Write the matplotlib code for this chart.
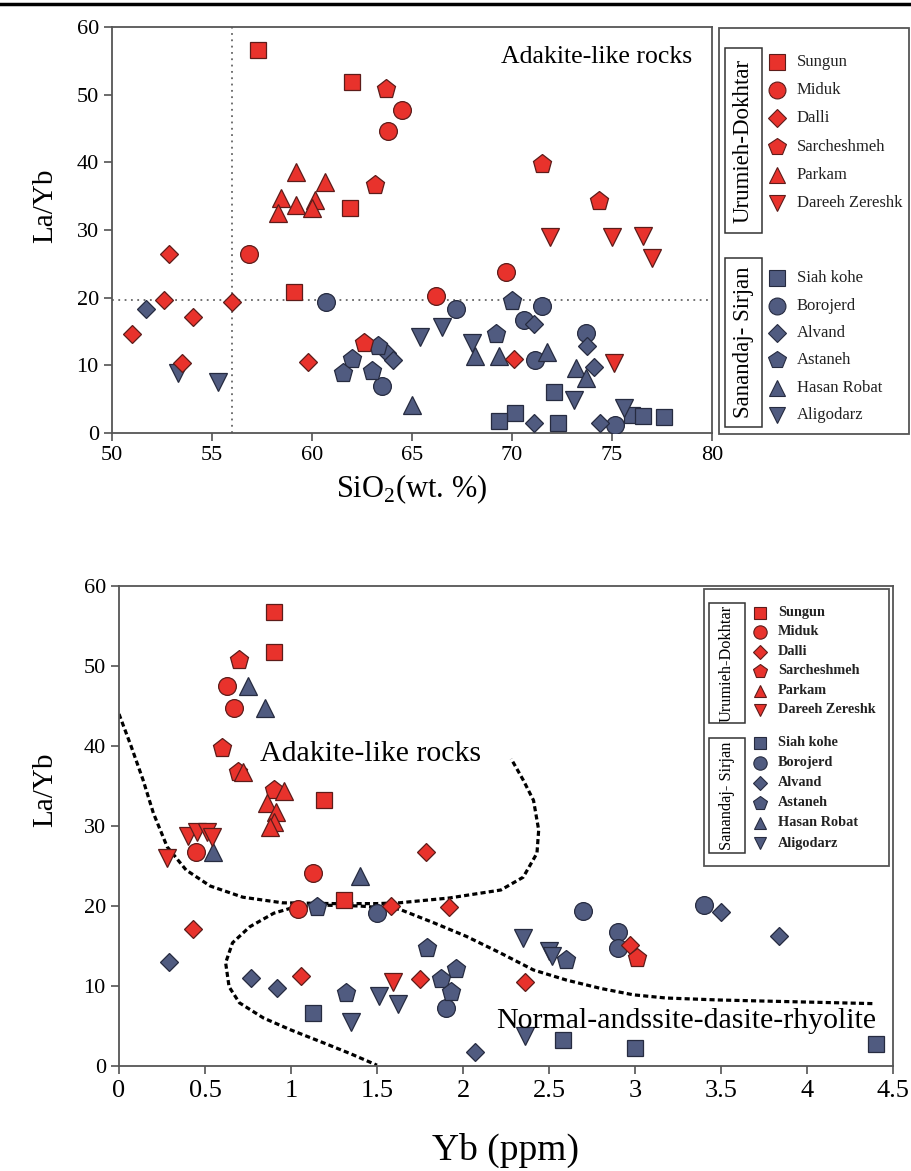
import matplotlib
matplotlib.use("Agg")
import matplotlib.pyplot as plt
from matplotlib.patches import Rectangle
from matplotlib.lines import Line2D

plt.rcParams['font.family'] = 'Liberation Serif'
plt.rcParams['mathtext.fontset'] = 'custom'
plt.rcParams['mathtext.rm'] = 'Liberation Serif'

# ---- data: group names and styles ----
ud_names = ['Sungun', 'Miduk', 'Dalli', 'Sarcheshmeh', 'Parkam', 'Dareeh Zereshk']
ss_names = ['Siah kohe', 'Borojerd', 'Alvand', 'Astaneh', 'Hasan Robat', 'Aligodarz']
shapes = ['s', 'o', 'D', 'p', '^', 'v']
red, red_edge = '#e8322c', '#5c1c1a'
blue, blue_edge = '#505b80', '#262b40'

# ---- top plot: SiO2 vs La/Yb ----
sio2_ud = [
    [57.3, 62.0, 61.9, 59.1],
    [64.5, 63.8, 56.85, 69.7, 66.2],
    [52.85, 52.6, 56.0, 54.05, 51.0, 53.5, 59.8, 70.1],
    [63.7, 63.15, 71.5, 74.35, 62.6],
    [59.2, 60.65, 58.45, 59.2, 60.15, 60.0, 58.3],
    [71.9, 75.0, 76.55, 77.0, 75.1],
]
layb_ud = [
    [56.6, 51.9, 33.2, 20.8],
    [47.8, 44.7, 26.4, 23.8, 20.2],
    [26.4, 19.6, 19.4, 17.1, 14.6, 10.3, 10.5, 10.9],
    [50.8, 36.7, 39.8, 34.3, 13.3],
    [38.6, 37.1, 34.7, 33.7, 34.4, 33.2, 32.5],
    [29.0, 29.0, 29.1, 25.8, 10.4],
]
sio2_ss = [
    [72.1, 70.15, 69.35, 72.3, 76.0, 76.55, 77.6],
    [60.7, 63.5, 67.2, 71.5, 70.6, 71.15, 73.7, 75.15],
    [51.7, 63.75, 64.05, 71.1, 73.75, 74.1, 71.1, 74.4],
    [62.0, 61.55, 63.0, 63.3, 70.0, 69.2],
    [65.0, 68.15, 69.35, 71.75, 73.2, 73.7],
    [53.3, 55.3, 65.4, 66.5, 68.0, 73.1, 75.6],
]
layb_ss = [
    [6.0, 3.0, 1.8, 1.5, 2.7, 2.5, 2.4],
    [19.4, 6.9, 18.3, 18.7, 16.7, 10.8, 14.8, 1.2],
    [18.3, 11.8, 10.8, 16.1, 12.9, 9.7, 1.5, 1.5],
    [10.9, 8.9, 9.1, 12.8, 19.5, 14.6],
    [4.1, 11.4, 11.4, 12.0, 9.6, 8.1],
    [8.9, 7.6, 14.2, 15.7, 13.3, 4.9, 3.7],
]
sio2_cut = 56.0
layb_cut = 19.6

# ---- bottom plot: Yb vs La/Yb ----
yb_ud = [
    [0.90, 0.90, 1.19, 1.31],
    [0.63, 0.67, 0.45, 1.13, 1.04],
    [1.785, 1.58, 1.92, 0.43, 1.06, 1.75, 2.36, 2.97],
    [0.70, 0.60, 0.69, 0.90, 3.01],
    [0.72, 0.96, 0.86, 0.91, 0.90, 0.88],
    [0.40, 0.455, 0.51, 0.54, 0.28, 1.595],
]
layb2_ud = [
    [56.7, 51.8, 33.3, 20.8],
    [47.5, 44.7, 26.7, 24.1, 19.6],
    [26.8, 20.0, 19.9, 17.1, 11.2, 10.9, 10.5, 15.1],
    [50.8, 39.8, 36.7, 34.5, 13.5],
    [36.8, 34.4, 32.9, 31.7, 30.5, 29.9],
    [28.75, 29.3, 29.2, 28.6, 26.0, 10.5],
]
yb_ss = [
    [1.13, 2.58, 3.0, 4.4],
    [1.50, 2.70, 3.40, 2.90, 2.90, 1.90],
    [0.29, 0.77, 0.92, 3.50, 3.84, 2.07],
    [1.15, 1.32, 1.79, 1.96, 1.87, 1.93, 2.60],
    [0.75, 0.85, 0.545, 1.40],
    [1.51, 1.62, 1.35, 2.35, 2.50, 2.52, 2.36],
]
layb2_ss = [
    [6.6, 3.2, 2.3, 2.8],
    [19.1, 19.4, 20.1, 16.8, 14.7, 7.2],
    [13.0, 11.0, 9.8, 19.3, 16.3, 1.7],
    [19.9, 9.1, 14.8, 12.1, 10.9, 9.3, 13.2],
    [47.5, 44.8, 26.7, 23.7],
    [8.7, 7.8, 5.5, 16.0, 14.4, 13.7, 3.8],
]
# field boundaries (dashed)
adakite_x = [0.0, 0.07, 0.14, 0.2, 0.28, 0.39, 0.53, 0.72, 0.95, 1.25, 1.5, 1.63,
             1.92, 2.22, 2.35, 2.43, 2.44, 2.41, 2.35, 2.28]
adakite_y = [44.0, 40.0, 35.75, 31.6, 27.4, 24.5, 22.5, 21.1, 20.4, 20.3, 20.3, 20.4,
             21.0, 22.0, 23.6, 26.6, 29.5, 33.2, 35.75, 38.4]
normal_x = [4.38, 3.49, 3.18, 2.99, 2.8, 2.6, 2.41, 2.22, 2.02, 1.83, 1.63, 1.4, 1.2,
            1.01, 0.9, 0.76, 0.66, 0.62, 0.64, 0.70, 0.84, 1.0, 1.2, 1.35, 1.5]
normal_y = [7.8, 8.25, 8.5, 8.9, 9.7, 10.75, 12.0, 14.1, 16.2, 17.9, 19.6, 20.0, 20.1,
            19.8, 19.1, 17.4, 15.4, 12.9, 9.9, 7.9, 6.0, 4.5, 2.8, 1.5, 0.1]

W, H = 912, 1171
fig = plt.figure(figsize=(W / 100, H / 100), dpi=100)

# size of each marker shape (points)
msz = {'s': 11.7, 'o': 12.8, 'D': 9.3, 'p': 14.0, '^': 12.3, 'v': 12.3}


def draw_groups(ax, xs, ys, fc, ec, scale=1.0):
    for m, x, y in zip(shapes, xs, ys):
        ax.plot(x, y, ls='none', marker=m, ms=msz[m] * scale, mfc=fc, mec=ec,
                mew=0.9, zorder=3)


def style_axes(ax):
    for s in ax.spines.values():
        s.set_color('#555555')
        s.set_linewidth(1.3)
    ax.tick_params(direction='out', length=6, width=1.1, color='#444444',
                   top=False, right=False)


def px_axes(x0, y0, x1, y1):
    a = fig.add_axes([x0 / W, 1 - y1 / H, (x1 - x0) / W, (y1 - y0) / H])
    a.set_xlim(x0, x1)
    a.set_ylim(y1, y0)
    a.axis('off')
    return a


def draw_legend(box, inner1, inner2, rows1, rows2, mx, tx, fs, gfs, ms_scale, bold):
    a = px_axes(*box)
    a.add_patch(Rectangle((box[0] + 1, box[1] + 1), box[2] - box[0] - 2, box[3] - box[1] - 2,
                          fill=False, ec='#555555', lw=1.3))
    for (bx0, by0, bx1, by1), title in [(inner1, 'Urumieh-Dokhtar'), (inner2, 'Sanandaj- Sirjan')]:
        a.add_patch(Rectangle((bx0, by0), bx1 - bx0, by1 - by0, fill=False, ec='#333333', lw=1.1))
        a.text((bx0 + bx1) / 2, (by0 + by1) / 2, title, rotation=90, ha='center', va='center',
               fontsize=gfs)
    for names, rows, fc, ec in [(ud_names, rows1, red, red_edge), (ss_names, rows2, blue, blue_edge)]:
        for name, m, ry in zip(names, shapes, rows):
            a.plot([mx], [ry], ls='none', marker=m, ms=msz[m] * ms_scale, mfc=fc, mec=ec, mew=0.8)
            a.text(tx, ry, name, ha='left', va='center', fontsize=fs,
                   fontweight='bold' if bold else 'normal', color='#222222')


# separator line at the very top
fig.add_artist(Line2D([0, 1], [1 - 4 / H, 1 - 4 / H], color='black', lw=2.5))

# ---------- top chart ----------
ax1 = fig.add_axes([112 / W, 1 - 433 / H, 600 / W, 406 / H])
ax1.axvline(sio2_cut, color='#666666', ls=(0, (1, 2.5)), lw=1.3, zorder=1)
ax1.axhline(layb_cut, color='#666666', ls=(0, (1, 2.5)), lw=1.3, zorder=1)
draw_groups(ax1, sio2_ss, layb_ss, blue, blue_edge)
draw_groups(ax1, sio2_ud, layb_ud, red, red_edge)
ax1.set_xlim(50, 80)
ax1.set_ylim(0, 60)
ax1.set_xticks(range(50, 81, 5))
ax1.set_yticks(range(0, 61, 10))
style_axes(ax1)
ax1.tick_params(labelsize=16)
ax1.set_xlabel('SiO$_2$(wt. %)', fontsize=22, labelpad=5)
ax1.set_ylabel('La/Yb', fontsize=21)
ax1.yaxis.set_label_coords(-0.09, 0.56)
ax1.text(79.0, 55.5, 'Adakite-like rocks', ha='right', va='center', fontsize=18.5)

draw_legend((718, 27, 910, 435), (725, 48, 762, 233), (725, 258, 762, 427),
            [62, 90, 118, 147, 175, 203], [278, 306, 333, 360, 388, 415],
            777, 797, 12, 16.5, 0.95, False)

# ---------- bottom chart ----------
ax2 = fig.add_axes([119 / W, 1 - 1066 / H, 774 / W, 480 / H])
ax2.plot(adakite_x, adakite_y, color='black', ls=(0, (1.6, 1.0)), lw=2.3, zorder=2)
ax2.plot(normal_x, normal_y, color='black', ls=(0, (1.6, 1.0)), lw=2.3, zorder=2)
draw_groups(ax2, yb_ss, layb2_ss, blue, blue_edge)
draw_groups(ax2, yb_ud, layb2_ud, red, red_edge)
ax2.set_xlim(0, 4.5)
ax2.set_ylim(0, 60)
ax2.set_xticks([0, 0.5, 1, 1.5, 2, 2.5, 3, 3.5, 4, 4.5])
ax2.set_xticklabels(['0', '0.5', '1', '1.5', '2', '2.5', '3', '3.5', '4', '4.5'])
ax2.set_yticks(range(0, 61, 10))
style_axes(ax2)
ax2.tick_params(axis='y', labelsize=16)
ax2.tick_params(axis='x', labelsize=19, pad=4)
ax2.set_xlabel('Yb (ppm)', fontsize=27, labelpad=22)
ax2.set_ylabel('La/Yb', fontsize=21)
ax2.yaxis.set_label_coords(-0.078, 0.575)
ax2.text(0.82, 39.0, 'Adakite-like rocks', ha='left', va='center', fontsize=21.5)
ax2.text(4.40, 5.6, 'Normal-andssite-dasite-rhyolite', ha='right', va='center', fontsize=21.5)

draw_legend((703, 588, 890, 867), (709, 603, 745, 723), (709, 738, 745, 853),
            [613, 632, 652, 671, 691, 710], [743, 763, 783, 803, 823, 843],
            760, 778, 10.3, 11.8, 0.75, True)

fig.savefig('out.png', dpi=100)
